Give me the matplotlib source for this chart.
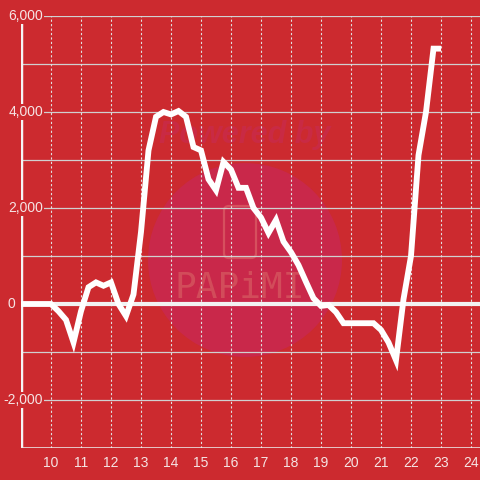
import matplotlib
matplotlib.use("Agg")
import matplotlib.pyplot as plt
import numpy as np
from matplotlib.patches import Circle, FancyBboxPatch

# ---------- data ----------
hours = np.arange(9, 23.01, 0.25)
values = [0, 0, 0, 0, 0,
          -150, -330, -800, -150, 350, 450, 380, 450, 0, -250, 200,
          1500, 3200, 3900, 4000, 3950, 4020, 3900, 3270, 3200, 2600,
          2370, 2960, 2800, 2420, 2420, 2000, 1800, 1480, 1750, 1300,
          1080, 810, 460, 120, -40, -20, -170, -400, -400, -400, -400,
          -400, -540, -800, -1170, 100, 1000, 3100, 4000, 5320, 5320]
x_ticks = list(range(10, 25))
y_grid = list(range(-3000, 6001, 1000))
y_labels = [6000, 4000, 2000, 0, -2000]

bg = "#cc2a2f"
txt = "#f5e4e4"
plt.rcParams["font.family"] = ["Liberation Sans", "DejaVu Sans"]

fig = plt.figure(figsize=(4.8, 4.8), dpi=100, facecolor=bg)
ax = fig.add_axes([21 / 480, 32 / 480, 459 / 480, 432 / 480])
ax.set_facecolor(bg)

# watermark (behind the grid and the line)
ax.add_artist(Circle((245 / 480, 1 - 260 / 480), 97 / 480, transform=fig.transFigure,
                     facecolor="#c9284a", edgecolor="none", zorder=0.2, clip_on=False))
ax.add_artist(FancyBboxPatch((224 / 480, 1 - 258 / 480), 32 / 480, 52 / 480,
                             boxstyle="round,pad=0,rounding_size=0.01",
                             transform=fig.transFigure, facecolor="none",
                             edgecolor="#d6505e", lw=1.6, zorder=0.3, clip_on=False))
ax.text(245 / 480, 1 - 135 / 480, "Powered by", color="#c92a44", fontsize=22,
        fontweight="bold", style="italic", ha="center", va="center", zorder=0.3,
        transform=fig.transFigure)
ax.text(240 / 480, 1 - 288 / 480, "PAPiMI", color="#d24c5a", fontsize=26,
        family="DejaVu Sans Mono", ha="center", va="center", zorder=0.3,
        transform=fig.transFigure)

# grid
for v in y_grid:
    ax.axhline(v, color="#d0d0d0", lw=0.9, zorder=0.5)
for h in x_ticks:
    ax.axvline(h, color="#e0e0e0", lw=0.8, ls=(0, (2, 2)), zorder=0.5)
ax.axhline(0, color="#f2f2f2", lw=3, zorder=1)
ax.axvline(9, ymax=(5830 + 3000) / 9000, color="#f5f5f5", lw=2.5, zorder=1)

ax.plot(hours, values, color="white", lw=4.2, solid_capstyle="butt",
        solid_joinstyle="miter", zorder=3)

ax.set_xlim(9, 24.3)
ax.set_ylim(-3000, 6000)
for s in ax.spines.values():
    s.set_visible(False)
ax.axhline(-3000, color="#eeeeee", lw=1.8, zorder=2)

ax.set_xticks(x_ticks)
ax.set_xticklabels([str(h) for h in x_ticks])
ax.set_yticks([])
ax.tick_params(axis="x", length=0, pad=6, labelsize=10, labelcolor=txt)

for v in y_labels:
    xpos = 15 if v == 0 else 43
    ax.text((xpos - 21) / 459, v, f"{v:,}", transform=ax.get_yaxis_transform(),
            ha="right", va="center", fontsize=10, color=txt, zorder=4,
            bbox=dict(facecolor=bg, edgecolor="none", pad=1))

fig.savefig("out.png", dpi=100, facecolor=bg)
